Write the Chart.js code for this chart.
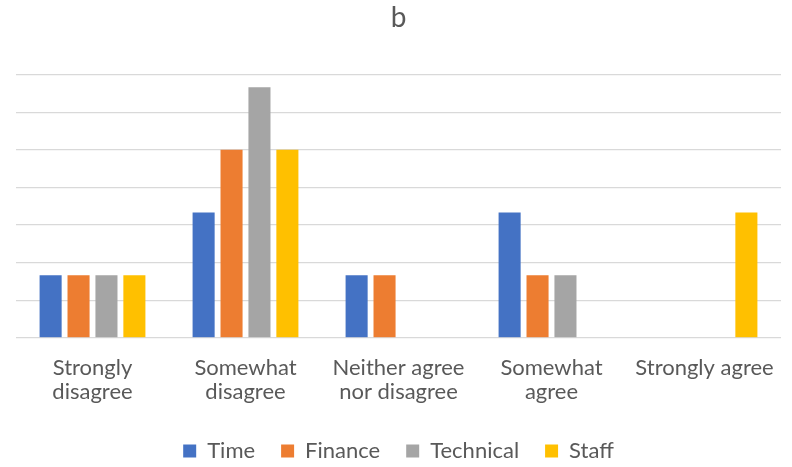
<!DOCTYPE html>
<html>
<head>
<meta charset="utf-8">
<script src="https://cdn.jsdelivr.net/npm/chart.js@4"></script>
<style>
html,body{margin:0;padding:0;background:#fff;}
#wrap{width:792px;height:467px;position:relative;}
</style>
</head>
<body>
<div id="wrap"><canvas id="c" width="792" height="467"></canvas></div>
<script>
const categories = [["Strongly","disagree"],["Somewhat","disagree"],["Neither agree","nor disagree"],["Somewhat","agree"],["Strongly agree"]];
const seriesNames = ["Time","Finance","Technical","Staff"];
const timeValues = [1, 2, 1, 2, 0];
const financeValues = [1, 3, 1, 1, 0];
const technicalValues = [1, 4, 0, 1, 0];
const staffValues = [1, 3, 0, 0, 2];
const colors = ["#4472C4","#ED7D31","#A5A5A5","#FFC000"];
const yMax = 4.2, yStep = 0.6;

const allValues = [timeValues, financeValues, technicalValues, staffValues];
const font = "Lato, 'Liberation Sans', sans-serif";

new Chart(document.getElementById('c'), {
  type: 'bar',
  data: {
    labels: categories,
    datasets: seriesNames.map((n, i) => ({
      label: n,
      data: allValues[i],
      backgroundColor: colors[i],
      borderWidth: 0,
      categoryPercentage: 0.73,
      barPercentage: 0.79
    }))
  },
  options: {
    responsive: false,
    animation: false,
    devicePixelRatio: 1,
    layout: { padding: { left: 16, right: 11, top: 0, bottom: -5 } },
    plugins: {
      title: {
        display: true, text: 'b', color: '#595959',
        font: { family: font, size: 28, weight: 'normal' },
        padding: { top: 1, bottom: 40 }
      },
      legend: {
        position: 'bottom',
        labels: {
          color: '#595959', boxWidth: 13, boxHeight: 13, padding: 26,
          font: { family: font, size: 22 }
        }
      },
      tooltip: { enabled: false }
    },
    scales: {
      x: {
        grid: { display: false },
        border: { display: false },
        ticks: { color: '#595959', font: { family: font, size: 22, lineHeight: 1.05 }, maxRotation: 0, autoSkip: false, padding: 11 }
      },
      y: {
        min: 0, max: yMax,
        ticks: { display: false, stepSize: yStep },
        grid: { color: '#d9d9d9', lineWidth: 1.3, drawTicks: false },
        border: { display: false }
      }
    }
  }
});
</script>
</body>
</html>
